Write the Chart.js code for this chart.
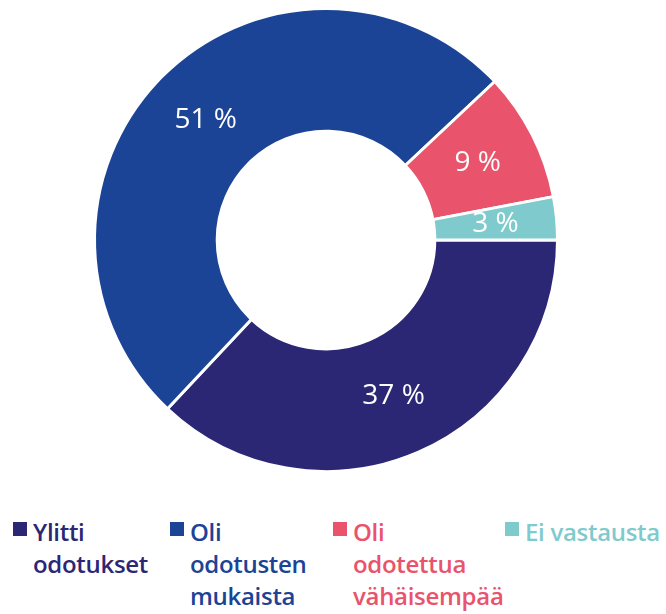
<!DOCTYPE html>
<html>
<head>
<meta charset="utf-8">
<script src="https://cdn.jsdelivr.net/npm/chart.js@4/dist/chart.umd.min.js"></script>
<style>
  html, body { margin: 0; padding: 0; background: #fff; }
  body { width: 666px; height: 614px; position: relative; overflow: hidden; font-family: "Open Sans", sans-serif; }
  #wrap { position: absolute; left: 0; top: 0; width: 652px; height: 480px; }
  #legend { position: absolute; left: 0; top: 516px; width: 666px; }
  .item { position: absolute; top: 0; font-size: 24px; font-weight: 600; line-height: 32px; letter-spacing: -0.3px; }
  .item .box { position: absolute; left: 0; top: 6px; width: 14px; height: 14px; }
  .item .txt { position: absolute; top: 0; white-space: nowrap; }
</style>
</head>
<body>
<div id="wrap"><canvas id="donut"></canvas></div>
<div id="legend"></div>
<script>
// vastaukset (%)
const labels = [['Ylitti', 'odotukset'], ['Oli', 'odotusten', 'mukaista'], ['Oli', 'odotettua', 'vähäisempää'], ['Ei vastausta']]
const values = [37, 51, 9, 3]
const colors = ['#2c2775', '#1b4496', '#e9536b', '#7fcacd']

// prosenttitekstit renkaan päälle
const sliceLabels = {
    id: 'sliceLabels',
    afterDatasetsDraw(chart) {
        const ctx = chart.ctx
        const meta = chart.getDatasetMeta(0)
        ctx.save()
        ctx.fillStyle = '#fff'
        ctx.font = '28px "Open Sans", sans-serif'
        ctx.textAlign = 'center'
        ctx.textBaseline = 'middle'
        meta.data.forEach((arc, i) => {
            const p = arc.getCenterPoint()
            ctx.fillText(values[i] + ' %', p.x, p.y)
        })
        ctx.restore()
    }
}

new Chart(document.getElementById('donut'), {
    type: 'doughnut',
    data: {
        labels: labels.map(l => l.join(' ')),
        datasets: [{
            data: values,
            backgroundColor: colors,
            borderColor: '#fff',
            borderWidth: 3,
        }]
    },
    options: {
        responsive: true,
        maintainAspectRatio: false,
        animation: false,
        rotation: 90,
        cutout: '47%',
        layout: { padding: { top: 7, bottom: 7 } },
        plugins: {
            legend: { display: false },
            tooltip: { enabled: false }
        }
    },
    plugins: [sliceLabels]
})

// legenda
const legendX = [13, 170, 333, 505]
const legend = document.getElementById('legend')
labels.forEach((l, i) => {
    const item = document.createElement('div')
    item.className = 'item'
    item.style.left = legendX[i] + 'px'
    item.style.color = colors[i]
    item.innerHTML = '<div class="box" style="background:' + colors[i] + '"></div>' +
        '<div class="txt" style="left:20px">' + l.join('<br>') + '</div>'
    legend.appendChild(item)
})
</script>
</body>
</html>
